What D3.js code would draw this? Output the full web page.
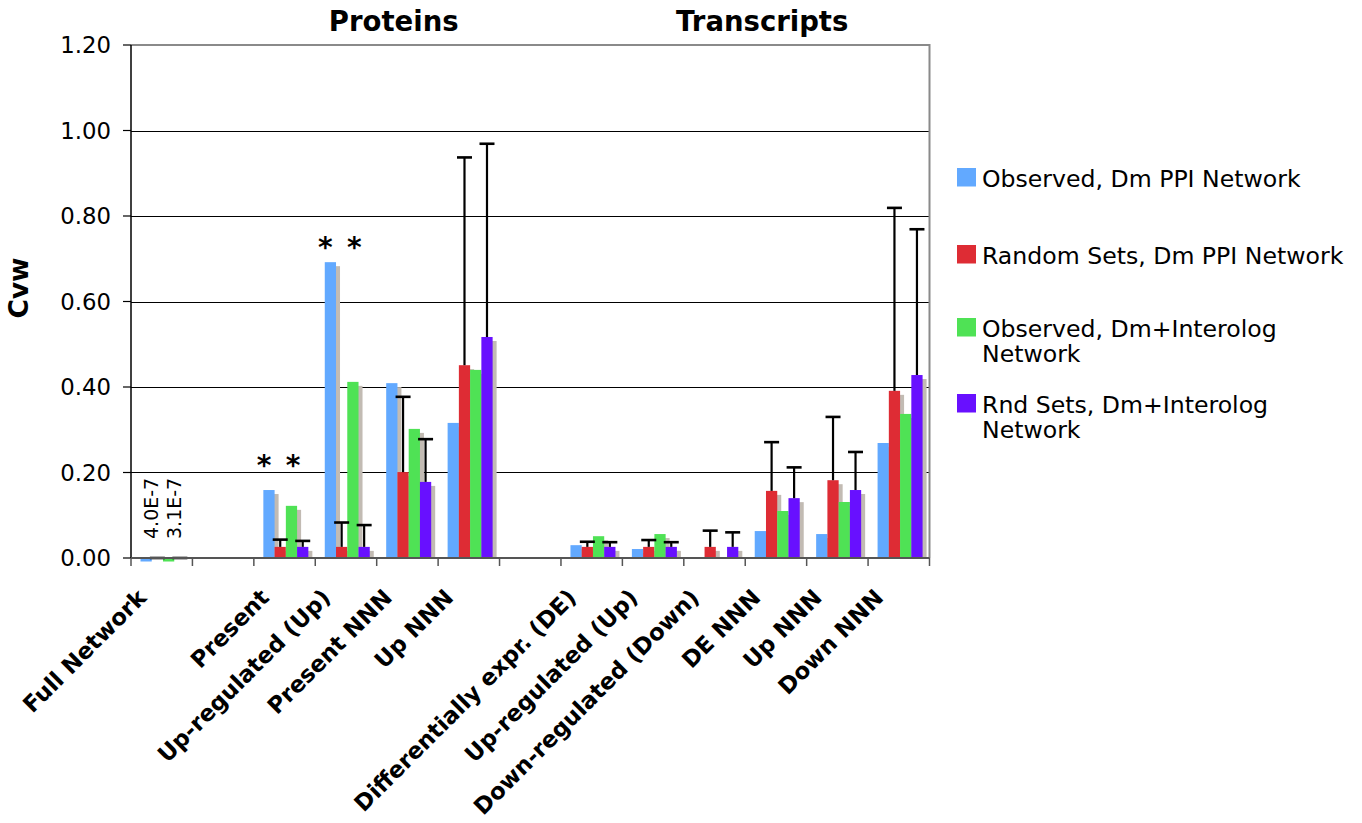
<!DOCTYPE html>
<html>
<head>
<meta charset="utf-8">
<script src="https://cdn.jsdelivr.net/npm/d3@7"></script>
<style>
  html, body { margin: 0; padding: 0; background: #fff; }
  svg { display: block; font-family: "DejaVu Sans", Verdana, sans-serif; }
</style>
</head>
<body>
<svg id="chart" width="1362" height="823"></svg>
<script>
// Category slots along the x axis ("" = empty spacer slot)
const categories = ["Full Network", "", "Present", "Up-regulated (Up)", "Present NNN", "Up NNN", "",
  "Differentially expr. (DE)", "Up-regulated (Up)", "Down-regulated (Down)", "DE NNN", "Up NNN", "Down NNN"];

// Cvw values per series (null = no bar in that slot)
const observedPPI       = [4.0e-7, null, 0.159, 0.692, 0.409, 0.316, null, 0.030, 0.021, 0,     0.063, 0.056, 0.269];
const randomPPI         = [0,      null, 0.026, 0.026, 0.201, 0.451, null, 0.026, 0.026, 0.026, 0.157, 0.182, 0.391];
const observedInterolog = [3.1e-7, null, 0.122, 0.412, 0.302, 0.440, null, 0.051, 0.056, 0,     0.110, 0.131, 0.337];
const randomInterolog   = [0,      null, 0.026, 0.026, 0.178, 0.517, null, 0.026, 0.026, 0.026, 0.140, 0.159, 0.428];

// Standard deviations of the random-set series (upper error bars)
const randomPPIErr         = [0, null, 0.017, 0.057, 0.176, 0.486, null, 0.012, 0.016, 0.038, 0.114, 0.148, 0.428];
const randomInterologErr   = [0, null, 0.014, 0.051, 0.100, 0.452, null, 0.011, 0.011, 0.034, 0.072, 0.089, 0.341];

// Series names as shown in the legend (one entry per line)
const seriesLabels = [
  ["Observed, Dm PPI Network"],
  ["Random Sets, Dm PPI Network"],
  ["Observed, Dm+Interolog", "Network"],
  ["Rnd Sets, Dm+Interolog", "Network"]
];
const seriesColors = ["#62a9ff", "#de2c34", "#4fe255", "#6810ff"];

// Y axis ticks
const yTicks = [0, 0.2, 0.4, 0.6, 0.8, 1.0, 1.2];

// Group headings and the slot ranges they span
const groupTitles = ["Proteins", "Transcripts"];
const groupTitleSlots = [[2, 5], [7, 12]];

// Tiny values printed beside the Full Network bars
const tinyLabels = ["4.0E-7", "3.1E-7"];

// Significance stars: slot index, series index, level (Cvw) at which the star sits
const starSlots  = [2, 2, 3, 3];
const starSeries = [0, 2, 0, 2];
const starLevels = [0.229, 0.229, 0.739, 0.739];

const series = [observedPPI, randomPPI, observedInterolog, randomInterolog];
const errors = [null, randomPPIErr, null, randomInterologErr];

const svg = d3.select("#chart");
const plot = { left: 131, right: 929.5, top: 45, bottom: 558 };

const x = d3.scaleBand().domain(d3.range(categories.length)).range([plot.left, plot.right]);
const xs = d3.scaleBand().domain(d3.range(series.length)).range([9.5, 9.5 + 45]);
const y = d3.scaleLinear().domain([0, 1.2]).range([plot.bottom, plot.top]);

// Gridlines
svg.append("g").selectAll("line")
  .data(yTicks.filter(t => t > 0 && t < 1.2))
  .join("line")
  .attr("x1", plot.left).attr("x2", plot.right)
  .attr("y1", d => Math.round(y(d)) + 0.5).attr("y2", d => Math.round(y(d)) + 0.5)
  .attr("stroke", "#000").attr("stroke-width", 1.2);

// Plot frame (top and right edges)
svg.append("path")
  .attr("d", `M${plot.left},${y(1.2)}H${plot.right}V${plot.bottom}`)
  .attr("fill", "none").attr("stroke", "#8a8a8a").attr("stroke-width", 2);

// Flatten bar data
const bars = [];
series.forEach((vals, s) => vals.forEach((v, i) => {
  if (v === null) return;
  bars.push({ s, i, v, err: errors[s] ? errors[s][i] : null });
}));
const bx = d => x(d.i) + xs(d.s);
const bw = xs.bandwidth();

// Drop shadows behind bars
svg.append("g").selectAll("rect")
  .data(bars.filter(d => y(d.v) < plot.bottom - 4))
  .join("rect")
  .attr("x", d => bx(d) + 4)
  .attr("y", d => y(d.v) + 4)
  .attr("width", bw)
  .attr("height", d => plot.bottom - y(d.v) - 4)
  .attr("fill", "#c2bbb3");

// Bars; values too small to see are drawn as a short stub under the axis
svg.append("g").selectAll("rect")
  .data(bars.filter(d => d.v > 0))
  .join("rect")
  .attr("x", bx)
  .attr("y", d => (plot.bottom - y(d.v) < 1) ? plot.bottom : y(d.v))
  .attr("width", bw)
  .attr("height", d => (plot.bottom - y(d.v) < 1) ? 3.5 : plot.bottom - y(d.v))
  .attr("fill", d => seriesColors[d.s]);

// Error bars (upper only)
const eg = svg.append("g").attr("stroke", "#000");
bars.filter(d => d.err !== null).forEach(d => {
  const cx = bx(d) + bw / 2;
  const top = y(d.v + d.err);
  eg.append("line").attr("x1", cx).attr("x2", cx)
    .attr("y1", y(d.v)).attr("y2", top).attr("stroke-width", 2.2);
  eg.append("line").attr("x1", cx - 7.5).attr("x2", cx + 7.5)
    .attr("y1", top).attr("y2", top).attr("stroke-width", 2.6);
});

// Y axis
const yAxis = svg.append("g");
yAxis.append("line").attr("x1", plot.left).attr("x2", plot.left)
  .attr("y1", plot.top).attr("y2", plot.bottom).attr("stroke", "#000").attr("stroke-width", 1.5);
yAxis.selectAll("line.tick").data(yTicks).join("line").attr("class", "tick")
  .attr("x1", plot.left - 8).attr("x2", plot.left)
  .attr("y1", d => y(d)).attr("y2", d => y(d))
  .attr("stroke", "#000").attr("stroke-width", 1.2);
yAxis.selectAll("text").data(yTicks).join("text")
  .attr("x", 111).attr("y", d => y(d) + 8)
  .attr("text-anchor", "end").attr("font-size", 22.8).attr("fill", "#000")
  .text(d => d3.format(".2f")(d));

// X axis
const xAxis = svg.append("g");
xAxis.append("line").attr("x1", plot.left).attr("x2", plot.right)
  .attr("y1", plot.bottom).attr("y2", plot.bottom).attr("stroke", "#555").attr("stroke-width", 2);
xAxis.selectAll("line.tick").data(d3.range(categories.length + 1)).join("line").attr("class", "tick")
  .attr("x1", i => plot.left + i * x.step()).attr("x2", i => plot.left + i * x.step())
  .attr("y1", plot.bottom).attr("y2", plot.bottom + 8)
  .attr("stroke", "#555").attr("stroke-width", 1.5);
xAxis.selectAll("text").data(categories.map((c, i) => ({ c, i })).filter(d => d.c))
  .join("text")
  .attr("transform", d => `translate(${x(d.i) + x.bandwidth() / 2 - 14},${plot.bottom + 41}) rotate(-45)`)
  .attr("text-anchor", "end").attr("font-size", 22.8).attr("font-weight", "bold")
  .text(d => d.c);

// Y axis title
svg.append("text")
  .attr("transform", `translate(28,288) rotate(-90)`)
  .attr("text-anchor", "middle").attr("font-size", 26.5).attr("font-weight", "bold")
  .text("Cvw");

// Group titles
svg.selectAll("text.group").data(groupTitles).join("text").attr("class", "group")
  .attr("x", (d, k) => (x(groupTitleSlots[k][0]) + x(groupTitleSlots[k][1]) + x.bandwidth()) / 2 + 17)
  .attr("y", 31)
  .attr("text-anchor", "middle").attr("font-size", 27.5).attr("font-weight", "bold")
  .text(d => d);

// Tiny value labels for the Full Network bars
svg.selectAll("text.tiny").data(tinyLabels).join("text").attr("class", "tiny")
  .attr("transform", (d, k) => `translate(${bx({ i: 0, s: k * 2 }) + bw / 2 + 12},${plot.bottom - 19}) rotate(-90)`)
  .attr("font-size", 19)
  .text(d => d);

// Significance stars
svg.selectAll("text.star").data(starSlots.map((slot, k) => ({ slot, s: starSeries[k], lv: starLevels[k] })))
  .join("text").attr("class", "star")
  .attr("x", d => bx({ i: d.slot, s: d.s }) + bw / 2 + (d.s === 0 ? -5 : 1.5))
  .attr("y", d => y(d.lv) + 14.5)
  .attr("text-anchor", "middle").attr("font-size", 28).attr("font-weight", "bold")
  .text("*");

// Legend
const legendTop = [168, 245, 318, 394];
const lg = svg.append("g");
seriesLabels.forEach((lines, s) => {
  lg.append("rect").attr("x", 957).attr("y", legendTop[s]).attr("width", 19).attr("height", 18.5)
    .attr("fill", seriesColors[s]);
  lines.forEach((ln, j) => {
    lg.append("text").attr("x", 982).attr("y", legendTop[s] + 18.5 + j * 25.5)
      .attr("font-size", 23.6).text(ln);
  });
});
</script>
</body>
</html>
